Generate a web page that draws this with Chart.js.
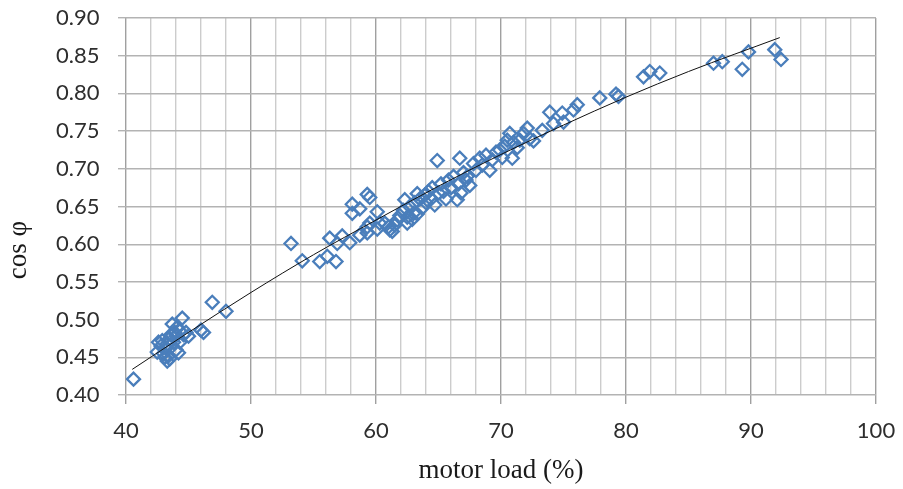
<!DOCTYPE html>
<html>
<head>
<meta charset="utf-8">
<title>cos phi vs motor load</title>
<script src="https://cdn.jsdelivr.net/npm/chart.js@4.4.1/dist/chart.umd.min.js"></script>
<style>
    body { margin: 0; background: #fff; }
    #chartBox { width: 903px; height: 489px; }
</style>
</head>
<body>
<div id="chartBox"><canvas id="loadChart" width="903" height="489"></canvas></div>
<script>
// Measured points (motor load in %, power factor)
const motorLoad = [
    40.6, 42.5, 42.6, 42.8, 42.9, 43.0, 43.1, 43.2, 43.3, 43.3, 43.4, 43.5, 43.5, 43.6, 43.7, 43.8,
    43.9, 44.0, 44.0, 44.1, 44.2, 44.3, 44.3, 44.5, 44.6, 44.8, 45.0, 46.0, 46.2, 46.9, 48.0,
    53.2, 54.1, 55.5, 56.1, 56.8, 56.3, 56.9, 57.3, 57.9, 58.1, 58.1, 58.7, 59.3, 59.5, 58.7,
    59.3, 59.3, 60.1, 60.1, 59.5, 60.3, 60.7, 61.0, 61.1, 61.3, 61.7, 62.5, 62.3, 63.0, 63.3,
    61.5, 61.9, 62.2, 62.5, 62.7, 62.9, 63.1, 63.3, 63.5, 63.7, 63.9, 64.0, 64.2, 64.4, 64.5,
    64.7, 64.9, 65.0, 65.2, 65.4, 65.6, 65.8, 66.0, 66.2, 66.5, 66.6, 66.7, 66.8, 67.0, 67.2,
    67.3, 67.5, 67.8, 68.0, 68.3, 68.5, 68.8, 69.1, 69.3, 69.6, 69.9, 70.1, 70.3, 70.5, 70.7,
    70.9, 71.0, 71.3, 71.5, 71.8, 72.1, 72.3, 72.6, 73.3, 73.9, 74.2, 74.9, 75.0, 75.8, 76.1,
    77.9, 79.2, 79.4, 81.4, 81.9, 82.7, 87.0, 87.7, 89.3, 89.8, 91.9, 92.4
];
const cosPhi = [
    0.421, 0.457, 0.470, 0.465, 0.472, 0.455, 0.450, 0.462, 0.445, 0.468, 0.452, 0.448, 0.475, 0.480, 0.494, 0.470,
    0.483, 0.460, 0.478, 0.490, 0.456, 0.470, 0.485, 0.502, 0.480, 0.483, 0.478, 0.486, 0.483, 0.523, 0.511,
    0.601, 0.578, 0.577, 0.584, 0.577, 0.608, 0.601, 0.611, 0.602, 0.641, 0.653, 0.647, 0.666, 0.662, 0.612,
    0.615, 0.623, 0.643, 0.620, 0.628, 0.628, 0.628, 0.623, 0.619, 0.617, 0.632, 0.628, 0.659, 0.641, 0.667,
    0.625, 0.638, 0.645, 0.636, 0.650, 0.633, 0.655, 0.640, 0.660, 0.648, 0.665, 0.655, 0.670, 0.660, 0.675,
    0.652, 0.711, 0.668, 0.680, 0.670, 0.660, 0.685, 0.675, 0.690, 0.659, 0.680, 0.714, 0.668, 0.695, 0.685,
    0.690, 0.678, 0.707, 0.698, 0.714, 0.705, 0.718, 0.698, 0.712, 0.722, 0.725, 0.715, 0.730, 0.738, 0.747,
    0.714, 0.735, 0.728, 0.738, 0.747, 0.754, 0.740, 0.737, 0.751, 0.775, 0.760, 0.774, 0.762, 0.778, 0.785,
    0.794, 0.799, 0.796, 0.822, 0.829, 0.827, 0.840, 0.842, 0.832, 0.855, 0.858, 0.845
];

// Trend line
const trendLoad = [40.5, 45, 50, 55, 60, 65, 70, 75, 80, 85, 92.3];
const trendCos = [0.434, 0.483, 0.536, 0.586, 0.632, 0.677, 0.719, 0.758, 0.795, 0.829, 0.874];

const measured = motorLoad.map((x, i) => ({ x: x, y: cosPhi[i] }));
const trend = trendLoad.map((x, i) => ({ x: x, y: trendCos[i] }));

// y axis title is drawn by hand, it sits below the middle in the original
const yTitlePlugin = {
    id: 'yTitle',
    afterDraw(chart) {
        const ctx = chart.ctx;
        ctx.save();
        ctx.translate(19, 250);
        ctx.rotate(-Math.PI / 2);
        ctx.font = '27px "Liberation Serif"';
        ctx.fillStyle = '#1a1a1a';
        ctx.textAlign = 'center';
        ctx.textBaseline = 'middle';
        ctx.fillText('cos φ', 0, 0);
        ctx.restore();
    }
};

const isMajor = (v) => Math.round(v) % 10 === 0;

Chart.defaults.font.family = 'Lato';
Chart.defaults.color = '#2e2e2e';

new Chart(document.getElementById('loadChart').getContext('2d'), {
    type: 'scatter',
    data: {
        datasets: [{
            label: 'trend',
            data: trend,
            showLine: true,
            borderColor: '#111',
            borderWidth: 1,
            pointRadius: 0,
            cubicInterpolationMode: 'monotone'
        }, {
            label: 'measured',
            data: measured,
            pointStyle: 'rectRot',
            pointRadius: 6.5,
            borderWidth: 2.3,
            borderColor: '#4a7ebb',
            backgroundColor: 'rgba(255,255,255,0)'
        }]
    },
    options: {
        responsive: false,
        animation: false,
        layout: { padding: { top: 18, right: 27, bottom: 0, left: 56 } },
        plugins: {
            legend: { display: false },
            tooltip: { enabled: false }
        },
        scales: {
            x: {
                type: 'linear',
                min: 40,
                max: 100,
                afterFit: (s) => { s.height = 94; },
                border: { display: false },
                grid: {
                    color: (c) => isMajor(c.tick.value) ? '#a0a0a0' : '#cccccc',
                    tickColor: (c) => isMajor(c.tick.value) ? '#a0a0a0' : 'rgba(0,0,0,0)',
                    tickLength: 9,
                    lineWidth: 1.4
                },
                ticks: {
                    stepSize: 2,
                    autoSkip: false,
                    maxRotation: 0,
                    padding: 2,
                    font: { size: 22, lineHeight: 2.3 },
                    callback: (v) => isMajor(v) ? String(Math.round(v)) : ''
                },
                title: {
                    display: true,
                    text: 'motor load (%)',
                    color: '#1a1a1a',
                    font: { family: 'Liberation Serif', size: 27 },
                    padding: { top: 0, bottom: 2 }
                }
            },
            y: {
                min: 0.4,
                max: 0.9,
                afterFit: (s) => { s.width = 70; },
                border: { display: false },
                grid: {
                    color: '#b3b3b3',
                    tickLength: 8,
                    lineWidth: 1.4
                },
                ticks: {
                    stepSize: 0.05,
                    padding: 2,
                    crossAlign: 'far',
                    font: { size: 22 },
                    callback: (v) => v.toFixed(2)
                }
            }
        }
    },
    plugins: [yTitlePlugin]
});
</script>
</body>
</html>
